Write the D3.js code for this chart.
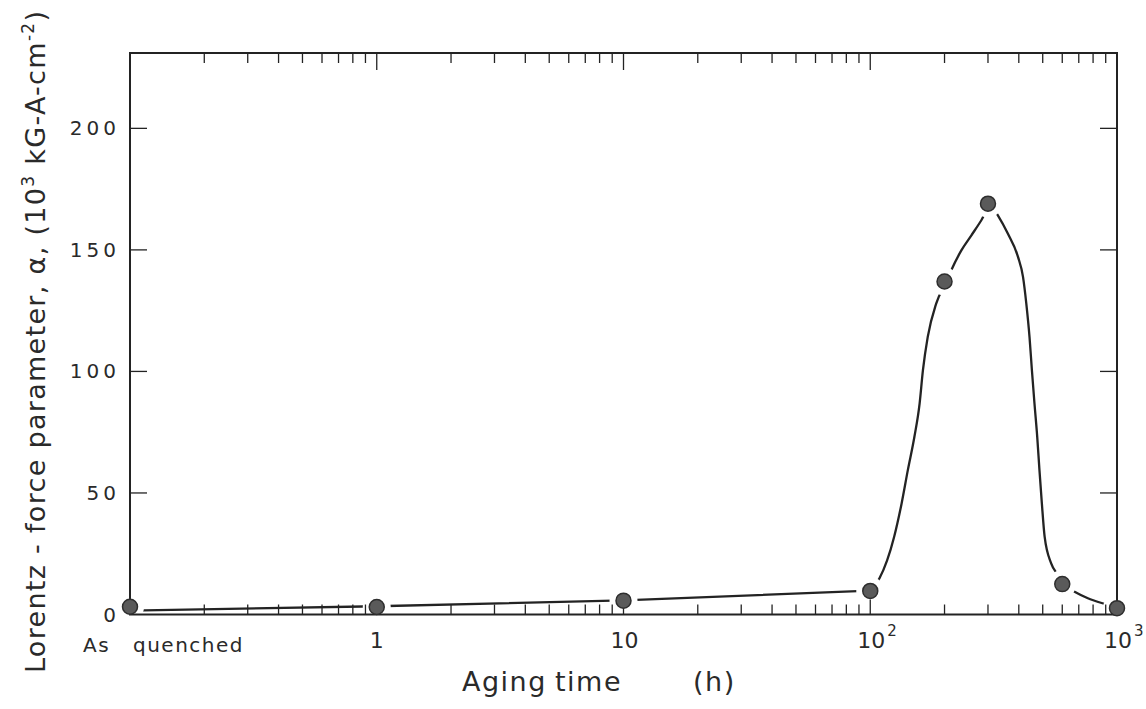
<!DOCTYPE html>
<html>
<head>
<meta charset="utf-8">
<script src="https://cdn.jsdelivr.net/npm/d3@7"></script>
<style>
  body { margin: 0; background: #fff; }
  svg { display: block; }
  text { font-family: "DejaVu Sans", sans-serif; fill: #2a2a2a; }
</style>
</head>
<body>
<div id="chart"></div>
<script>
// measured points
var hours = [0.1, 1, 10, 100, 200, 300, 600, 1000];
var alpha = [3.2, 3.1, 5.7, 9.7, 137, 169, 12.5, 2.6];

// hand drawn guide curve
// straight part up to 100 h, then the smooth peak
var lowHours = [0.1, 1, 10, 100];
var lowAlpha = [1.6, 3.4, 5.8, 9.8];
var peakHours = [100, 109, 125, 134, 142, 151, 158.5, 163.5, 171, 185, 204, 213, 234, 257, 282, 307,
                 329, 361, 397, 416, 429, 442, 452, 463, 475, 485, 496, 509, 541, 576, 602, 673, 762, 919, 1000];
var peakAlpha = [9.8, 14.9, 32, 45.7, 59.4, 73.1, 86.8, 100.5, 114.2, 127.9, 137.1, 141.6, 149.8, 156, 162.2, 168.6,
                 164.2, 156.7, 147.1, 138.9, 127.9, 114.2, 100.5, 86.8, 73.1, 59.4, 45.7, 32, 21, 16.2, 12.4, 9.4, 6.7, 3.9, 2.6];

var yTicks = [0, 50, 100, 150, 200];
var xLabelHours = [1, 10, 100, 1000];
var xLabelBase = ["1", "10", "10", "10"];
var xLabelExp = ["", "", "2", "3"];

var width = 1146, height = 709;
var pLeft = 130, pRight = 1117, pTop = 53, pBottom = 614.5;

var svg = d3.select("#chart").append("svg")
    .attr("width", width)
    .attr("height", height);

var x = d3.scaleLog().domain([0.1, 1000]).range([pLeft, pRight]);
var y = d3.scaleLinear().domain([0, 231]).range([pBottom, pTop]);

var ink = "#232323";

function pairs(a, b) { return a.map(function(h, i) { return [h, b[i]]; }); }

var lineLow = d3.line()
    .x(function(d) { return x(d[0]); })
    .y(function(d) { return y(d[1]); });

var linePeak = d3.line()
    .x(function(d) { return x(d[0]); })
    .y(function(d) { return y(d[1]); })
    .curve(d3.curveMonotoneX);

svg.append("path")
    .datum(pairs(lowHours, lowAlpha))
    .attr("d", lineLow)
    .attr("fill", "none")
    .attr("stroke", ink)
    .attr("stroke-width", 2.3);

svg.append("path")
    .datum(pairs(peakHours, peakAlpha))
    .attr("d", linePeak)
    .attr("fill", "none")
    .attr("stroke", ink)
    .attr("stroke-width", 2.3);

var pts = pairs(hours, alpha);

// white gaps round the markers
svg.selectAll(".halo")
    .data(pts)
    .enter().append("circle")
    .attr("class", "halo")
    .attr("cx", function(d) { return x(d[0]); })
    .attr("cy", function(d) { return y(d[1]); })
    .attr("r", 14)
    .attr("fill", "#fff");

// frame
svg.append("rect")
    .attr("x", pLeft).attr("y", pTop)
    .attr("width", pRight - pLeft).attr("height", pBottom - pTop)
    .attr("fill", "none")
    .attr("stroke", ink)
    .attr("stroke-width", 2);

// x ticks, top and bottom, pointing inwards
var xt = x.ticks().filter(function(t) { return t > 0.1 && t < 1000; });
function isMajor(t) { return Math.abs(Math.log10(t) - Math.round(Math.log10(t))) < 1e-6; }

svg.selectAll(".xtb")
    .data(xt)
    .enter().append("line")
    .attr("x1", function(d) { return x(d); })
    .attr("x2", function(d) { return x(d); })
    .attr("y1", pBottom)
    .attr("y2", function(d) { return pBottom - (isMajor(d) ? 15 : 10); })
    .attr("stroke", ink)
    .attr("stroke-width", 1.3);

svg.selectAll(".xtt")
    .data(xt)
    .enter().append("line")
    .attr("x1", function(d) { return x(d); })
    .attr("x2", function(d) { return x(d); })
    .attr("y1", pTop)
    .attr("y2", function(d) { return pTop + (isMajor(d) ? 17 : 10); })
    .attr("stroke", ink)
    .attr("stroke-width", 1.3);

// y ticks on both sides
var yt = yTicks.filter(function(t) { return t > 0; });
svg.selectAll(".ytl")
    .data(yt)
    .enter().append("line")
    .attr("x1", pLeft).attr("x2", pLeft + 17)
    .attr("y1", function(d) { return y(d); })
    .attr("y2", function(d) { return y(d); })
    .attr("stroke", ink)
    .attr("stroke-width", 1.3);

svg.selectAll(".ytr")
    .data(yt)
    .enter().append("line")
    .attr("x1", pRight).attr("x2", pRight - 17)
    .attr("y1", function(d) { return y(d); })
    .attr("y2", function(d) { return y(d); })
    .attr("stroke", ink)
    .attr("stroke-width", 1.3);

// y tick labels
svg.selectAll(".ylab")
    .data(yTicks)
    .enter().append("text")
    .attr("x", 120)
    .attr("y", function(d) { return y(d) + 7; })
    .attr("text-anchor", "end")
    .attr("font-size", 20)
    .attr("letter-spacing", 4)
    .text(function(d) { return d; });

// x tick labels
var xl = svg.selectAll(".xlab")
    .data(xLabelHours)
    .enter().append("text")
    .attr("y", 648)
    .attr("font-size", 22);

xl.append("tspan")
    .attr("x", function(d, i) { return x(d) - (xLabelBase[i].length === 1 ? 7 : 13); })
    .text(function(d, i) { return xLabelBase[i]; });
xl.append("tspan")
    .attr("dx", 2)
    .attr("dy", -12)
    .attr("font-size", 15)
    .text(function(d, i) { return xLabelExp[i]; });

var aq = svg.append("text")
    .attr("y", 652)
    .attr("font-size", 20)
    .attr("letter-spacing", 1.5);
aq.append("tspan").attr("x", x(0.1) - 47).text("As");
aq.append("tspan").attr("x", x(0.1) + 3).text("quenched");

// x axis title
var xt2 = svg.append("text")
    .attr("y", 691)
    .attr("font-size", 27)
    .attr("letter-spacing", 1.5);
xt2.append("tspan").attr("x", 462).text("Aging");
xt2.append("tspan").attr("x", 555).text("time");
xt2.append("tspan").attr("x", 693).text("(h)");

// y axis title
var ytl = svg.append("text")
    .attr("transform", "translate(45,673) rotate(-90)")
    .attr("font-size", 27)
    .attr("textLength", 662)
    .attr("lengthAdjust", "spacing");
ytl.append("tspan").text("Lorentz - force parameter, \u03b1, (10");
ytl.append("tspan").attr("dy", -11).attr("font-size", 17).text("3");
ytl.append("tspan").attr("dy", 11).text(" kG-A-cm");
ytl.append("tspan").attr("dy", -11).attr("font-size", 17).text("-2");
ytl.append("tspan").attr("dy", 11).text(")");

// markers
svg.selectAll(".dot")
    .data(pts)
    .enter().append("circle")
    .attr("class", "dot")
    .attr("cx", function(d) { return x(d[0]); })
    .attr("cy", function(d) { return y(d[1]); })
    .attr("r", 7.5)
    .attr("fill", "#5a5a5a")
    .attr("stroke", "#2e2e2e")
    .attr("stroke-width", 1.5);
</script>
</body>
</html>
